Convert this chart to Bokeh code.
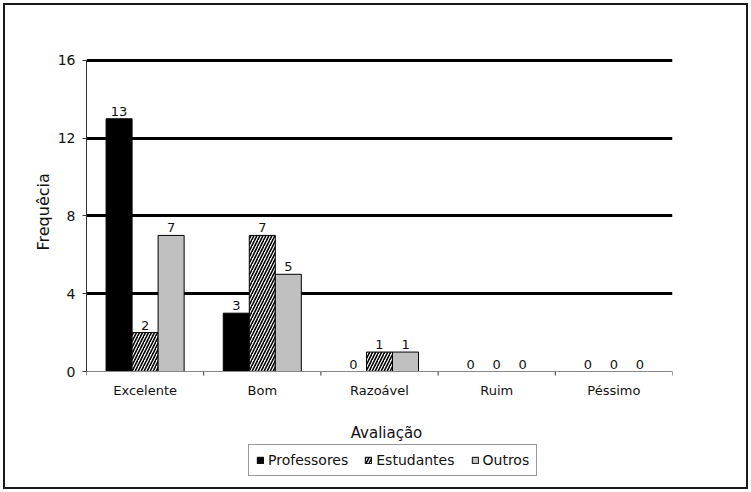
import math
from bokeh.plotting import figure
from bokeh.models import (ColumnDataSource, Range1d, FixedTicker, Legend, LegendItem, Span, Title)
from bokeh.transform import dodge
from bokeh.core.properties import value
from bokeh.embed import file_html
from bokeh.resources import INLINE

categories = ["Excelente", "Bom", "Razoável", "Ruim", "Péssimo"]
professores = [13, 3, 0, 0, 0]
estudantes = [2, 7, 1, 0, 0]
outros = [7, 5, 1, 0, 0]
y_ticks = [0, 4, 8, 12, 16]
x_title = "Avaliação"
y_title = "Frequêcia"

FONT = "DejaVu Sans"
TXT = "#111111"

n = len(categories)
idx = list(range(n))
src = ColumnDataSource(dict(i=idx, cat=categories, base=[0] * n,
                            prof=professores, est=estudantes, out=outros,
                            prof_l=[str(v) for v in professores],
                            est_l=[str(v) for v in estudantes],
                            out_l=[str(v) for v in outros]))

# layout: the value axis occupies the top 313 px of the frame; the frame
# continues below it so that category labels and legend sit inside it
ymax = 16.1
axis_px = 313
frame_h = 426
ymin = ymax - frame_h * ymax / axis_px

p = figure(frame_width=586, frame_height=frame_h, output_backend="svg", toolbar_location=None,
           x_range=Range1d(-0.5, n - 0.5), y_range=Range1d(ymin, ymax),
           x_axis_location=None,
           min_border_left=86, min_border_right=79, min_border_top=58, min_border_bottom=8)
p.outline_line_color = None
p.border_fill_alpha = 0
p.styles = {"background-color": "white",
            "box-shadow": "inset 0 0 0 3px white, inset 0 0 0 5px #1a1a1a"}

# y axis
ya = p.yaxis[0]
ya.bounds = (y_ticks[0], y_ticks[-1])
ya.ticker = FixedTicker(ticks=y_ticks)
ya.major_label_text_font = FONT
ya.major_label_text_font_size = "14px"
ya.major_label_text_color = TXT
ya.major_label_standoff = 7
ya.major_tick_out = 4
ya.major_tick_in = 0
ya.minor_tick_out = 0
ya.minor_tick_in = 0
ya.axis_line_color = "#333333"
ya.major_tick_line_color = "#333333"

# y axis title, centred on the value axis (not on the whole frame)
p.add_layout(Title(text=y_title, align="left", offset=234, standoff=4,
                   text_font=FONT, text_font_size="16px", text_font_style="normal",
                   text_color=TXT), "left")

# grid
p.xgrid.grid_line_color = None
p.ygrid.ticker = FixedTicker(ticks=y_ticks[1:])
p.ygrid.grid_line_color = "black"
p.ygrid.grid_line_width = 3

# category axis line, boundary ticks and labels
p.add_layout(Span(location=0, dimension="width", line_color="#888888", line_width=1))
p.ray(x=[i - 0.5 for i in range(n + 1)], y=[0] * (n + 1), length=4, length_units="screen",
      angle=-math.pi / 2, line_color="#333333", line_width=1)
p.text(x="i", y="base", text="cat", source=src, text_align="center", text_baseline="middle",
       y_offset=19, text_font=value(FONT), text_font_size="13px", text_color=TXT)
p.text(x=[(n - 1) / 2], y=[0], text=[x_title], text_align="center", text_baseline="middle",
       x_offset=7, y_offset=61, text_font=value(FONT), text_font_size="15px", text_color=TXT)

w = 0.222
r1 = p.vbar(x=dodge("i", -w), top="prof", width=w, source=src,
            fill_color="black", line_color="black", line_width=1)
r2 = p.vbar(x=dodge("i", 0), top="est", width=w, source=src,
            fill_color="white", line_color="black", line_width=1,
            hatch_pattern="/", hatch_color="black", hatch_scale=6, hatch_weight=1.6)
r3 = p.vbar(x=dodge("i", w), top="out", width=w, source=src,
            fill_color="#c0c0c0", line_color="black", line_width=1)

for off, col, lab in [(-w, "prof", "prof_l"), (0, "est", "est_l"), (w, "out", "out_l")]:
    p.text(x=dodge("i", off), y=col, text=lab, source=src,
           text_align="center", text_baseline="bottom", y_offset=-3,
           text_font=value(FONT), text_font_size="13px", text_color=TXT)

legend = Legend(items=[LegendItem(label="Professores", renderers=[r1]),
                       LegendItem(label="Estudantes", renderers=[r2]),
                       LegendItem(label="Outros", renderers=[r3])],
                orientation="horizontal", location=(162, 8),
                glyph_width=8, glyph_height=8, spacing=16, label_standoff=4,
                padding=7, margin=0,
                label_text_font=FONT, label_text_font_size="14px", label_text_color=TXT,
                border_line_color="#333333", border_line_width=1,
                background_fill_color="white", background_fill_alpha=1)
p.add_layout(legend, "center")

open("out.html", "w").write(file_html(p, INLINE))
